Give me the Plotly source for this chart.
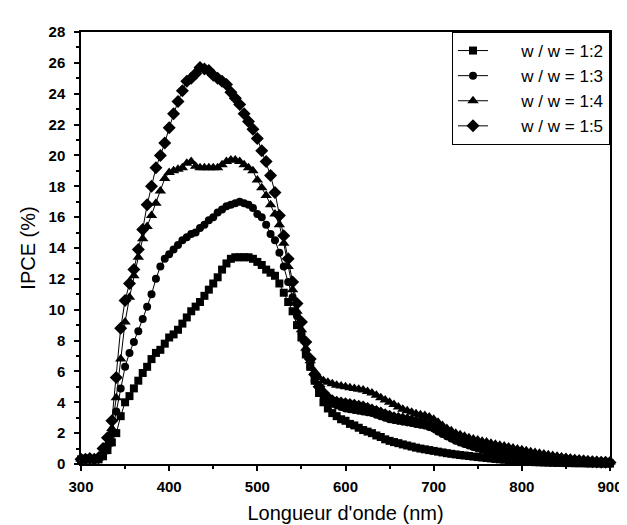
import plotly.graph_objects as go

wavelength = list(range(300, 901, 5))

ipce_1_2 = [0.3, 0.35, 0.3, 0.3, 0.3, 0.5, 0.9, 1.4, 2.0, 3.1,
            4.0, 4.4, 4.9, 5.4, 5.9, 6.3, 6.8, 7.2, 7.4, 7.8,
            8.2, 8.4, 8.7, 9.1, 9.5, 9.9, 10.2, 10.5, 10.9, 11.3,
            11.7, 12.1, 12.6, 13.0, 13.3, 13.4, 13.4, 13.4, 13.4, 13.3,
            13.1, 12.9, 12.6, 12.4, 12.2, 11.7, 11.1, 10.5, 9.9, 9.0,
            8.2, 7.1, 6.3, 5.4, 4.6, 4.0, 3.6, 3.3, 3.1, 2.9,
            2.8, 2.6, 2.5, 2.35, 2.2, 2.1, 2.0, 1.85, 1.75, 1.6,
            1.5, 1.42, 1.35, 1.27, 1.2, 1.13, 1.06, 1.0, 0.95, 0.9,
            0.85, 0.8, 0.75, 0.7, 0.66, 0.62, 0.58, 0.55, 0.52, 0.48,
            0.45, 0.42, 0.39, 0.36, 0.33, 0.3, 0.28, 0.25, 0.22, 0.2,
            0.18, 0.16, 0.14, 0.12, 0.11, 0.1, 0.09, 0.08, 0.07, 0.07,
            0.06, 0.06, 0.05, 0.05, 0.05, 0.04, 0.04, 0.04, 0.03, 0.03,
            0.03]

ipce_1_3 = [0.3, 0.3, 0.3, 0.3, 0.35, 0.6, 1.1, 2.0, 3.4, 4.9,
            6.3, 7.2, 7.9, 8.6, 9.4, 10.2, 11.0, 12.0, 12.8, 13.3,
            13.6, 13.9, 14.2, 14.5, 14.7, 14.9, 15.0, 15.3, 15.5, 15.8,
            16.0, 16.3, 16.5, 16.7, 16.8, 16.9, 17.0, 16.9, 16.8, 16.6,
            16.2, 16.0, 15.5, 14.9, 14.5, 13.7, 12.8, 11.8, 10.8, 9.6,
            8.5, 7.3, 6.3, 5.4, 4.8, 4.4, 4.1, 3.9, 3.8, 3.7,
            3.6, 3.55, 3.5, 3.45, 3.4, 3.35, 3.3, 3.2, 3.1, 3.0,
            2.9, 2.85, 2.8, 2.75, 2.7, 2.65, 2.6, 2.55, 2.5, 2.4,
            2.3, 2.1, 1.95, 1.8, 1.65, 1.5, 1.4, 1.3, 1.2, 1.1,
            1.0, 0.92, 0.85, 0.78, 0.72, 0.66, 0.6, 0.55, 0.5, 0.45,
            0.41, 0.37, 0.34, 0.31, 0.28, 0.25, 0.23, 0.21, 0.19, 0.17,
            0.15, 0.13, 0.12, 0.11, 0.1, 0.09, 0.08, 0.07, 0.06, 0.06,
            0.05]

ipce_1_4 = [0.3, 0.35, 0.3, 0.3, 0.4, 0.8, 1.3, 2.3, 4.3, 6.8,
            9.2, 10.8, 12.2, 13.4, 14.6, 15.4, 16.1, 16.9, 17.7, 18.5,
            18.9, 19.0, 19.1, 19.2, 19.5, 19.6, 19.3, 19.2, 19.2, 19.2,
            19.2, 19.2, 19.4, 19.6, 19.7, 19.7, 19.6, 19.4, 19.2, 19.0,
            18.4, 17.9, 17.4, 16.8, 16.2, 15.5, 14.3, 12.8, 11.3, 9.9,
            8.7, 7.5, 6.7, 6.0, 5.6, 5.4, 5.3, 5.2, 5.1, 5.05,
            5.0, 4.95, 4.9, 4.85, 4.8, 4.7, 4.6, 4.45, 4.3, 4.15,
            4.0, 3.85, 3.7, 3.55, 3.45, 3.35, 3.25, 3.2, 3.15, 3.05,
            2.9, 2.7, 2.5, 2.3, 2.15, 2.0, 1.9, 1.8, 1.7, 1.62,
            1.55, 1.48, 1.42, 1.35, 1.28, 1.22, 1.16, 1.1, 1.04, 0.98,
            0.92, 0.86, 0.8, 0.75, 0.7, 0.65, 0.6, 0.55, 0.5, 0.46,
            0.42, 0.38, 0.34, 0.3, 0.27, 0.24, 0.21, 0.19, 0.17, 0.15,
            0.13]

ipce_1_5 = [0.3, 0.3, 0.35, 0.3, 0.4, 1.0, 1.7, 2.8, 5.6, 8.8,
            10.6, 11.7, 12.6, 13.9, 15.2, 16.8, 18.0, 19.2, 20.0, 20.8,
            21.8, 22.7, 23.5, 24.2, 24.8, 25.0, 25.3, 25.7, 25.6, 25.5,
            25.2, 25.0, 24.8, 24.6, 24.1, 23.7, 23.3, 22.7, 22.2, 21.7,
            21.1, 20.3, 19.6, 18.7, 17.6, 16.1, 14.8, 13.3, 11.8, 10.4,
            9.2, 7.9, 6.8, 5.8, 5.0, 4.6, 4.3, 4.1, 4.0, 3.95,
            3.9, 3.85, 3.8, 3.75, 3.7, 3.6, 3.5, 3.4, 3.3, 3.2,
            3.1, 3.0, 2.95, 2.9, 2.85, 2.8, 2.75, 2.7, 2.65, 2.55,
            2.4, 2.25, 2.1, 1.95, 1.8, 1.68, 1.58, 1.48, 1.4, 1.32,
            1.25, 1.18, 1.12, 1.06, 1.0, 0.94, 0.88, 0.82, 0.77, 0.72,
            0.67, 0.62, 0.57, 0.53, 0.49, 0.45, 0.41, 0.38, 0.35, 0.32,
            0.29, 0.26, 0.23, 0.21, 0.19, 0.17, 0.15, 0.13, 0.12, 0.11,
            0.1]

series_names = ["w / w = 1:2", "w / w = 1:3", "w / w = 1:4", "w / w = 1:5"]
series_values = [ipce_1_2, ipce_1_3, ipce_1_4, ipce_1_5]
marker_symbols = ["square", "circle", "triangle-up", "diamond"]
marker_sizes = [8, 8, 10, 10]

FONT = "Liberation Sans, Arial, sans-serif"
pad = "\u00a0" * 6

fig = go.Figure()
for name, vals, sym, sz in zip(series_names, series_values, marker_symbols, marker_sizes):
    fig.add_trace(go.Scatter(
        x=wavelength, y=vals, name=pad + name,
        mode="lines+markers",
        line=dict(color="black", width=1),
        marker=dict(symbol=sym, size=sz, color="black", line=dict(width=0)),
        cliponaxis=False,
    ))

axis_common = dict(
    showline=True, linecolor="black", linewidth=1.5, mirror=True,
    ticks="outside", ticklen=5, tickwidth=1.5, tickcolor="black",
    showgrid=False, zeroline=False,
    tickfont=dict(family=FONT, size=15, color="black", weight="bold"),
)

fig.update_xaxes(
    range=[300, 900], dtick=100, tick0=300,
    minor=dict(dtick=50, ticks="outside", ticklen=3, tickwidth=1.5, tickcolor="black"),
    title=dict(text="Longueur d'onde (nm)", font=dict(family=FONT, size=20, color="black"), standoff=12),
    ticklabelstandoff=3,
    **axis_common,
)
fig.update_yaxes(
    range=[0, 28], dtick=2, tick0=0,
    minor=dict(dtick=1, ticks="outside", ticklen=3, tickwidth=1.5, tickcolor="black"),
    title=dict(text="IPCE (%)", font=dict(family=FONT, size=20, color="black"), standoff=8),
    ticklabelstandoff=6,
    **axis_common,
)

fig.update_layout(
    width=627, height=525,
    margin=dict(l=73, r=14, t=24, b=60),
    paper_bgcolor="white", plot_bgcolor="white",
    showlegend=True,
    legend=dict(
        x=1, y=1, xanchor="right", yanchor="top",
        bordercolor="black", borderwidth=1, bgcolor="white",
        font=dict(family=FONT, size=17, color="black"),
        tracegroupgap=0,
    ),
)

fig.write_html("out.html")
